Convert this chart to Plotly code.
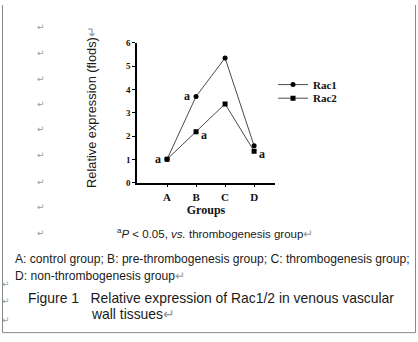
import plotly.graph_objects as go

groups = ["A", "B", "C", "D"]
rac1 = [1.0, 3.7, 5.35, 1.58]
rac2 = [1.0, 2.18, 3.38, 1.35]
sig_rac1 = ["a", "a", "", ""]
sig_rac2 = ["", "a", "", "a"]
y_ticks = [0, 1, 2, 3, 4, 5, 6]

W, H = 418, 342
def px(x): return x / W
def py(y): return 1 - y / H

xs = list(range(1, len(groups) + 1))

fig = go.Figure()
fig.add_trace(go.Scatter(x=xs, y=rac1, name="Rac1", mode="lines+markers", legend="legend",
                         line=dict(color="#4a4a4a", width=1),
                         marker=dict(symbol="circle", size=5, color="black")))
fig.add_trace(go.Scatter(x=xs, y=rac2, name="Rac2", mode="lines+markers", legend="legend2",
                         line=dict(color="#4a4a4a", width=1),
                         marker=dict(symbol="square", size=5, color="black")))

serif = "Liberation Serif"
sans = "Liberation Sans"

annotations = []
for i, (s, v) in enumerate(zip(sig_rac1, rac1)):
    if s:
        annotations.append(dict(x=xs[i], y=v, text=s, showarrow=False, xref="x", yref="y",
                                xanchor="center", yanchor="middle",
                                xshift=-9, yshift=0, font=dict(family=serif, size=12, color="#111", weight="bold")))
for i, (s, v) in enumerate(zip(sig_rac2, rac2)):
    if s:
        annotations.append(dict(x=xs[i], y=v, text=s, showarrow=False, xref="x", yref="y",
                                xanchor="center", yanchor="middle",
                                xshift=8, yshift=-3, font=dict(family=serif, size=12, color="#111", weight="bold")))

annotations.append(dict(x=px(92), y=py(105), xref="paper", yref="paper", showarrow=False,
                        xanchor="center", yanchor="middle",
                        text="Relative expression (flods)<span style='color:#999'>\u21b5</span>",
                        textangle=-90, font=dict(family=sans, size=12.8, color="#1a1a1a")))

for yy in [23, 49, 76, 102, 128, 155, 182, 208, 235]:
    annotations.append(dict(x=px(41), y=py(yy), xref="paper", yref="paper", showarrow=False,
                            xanchor="center", yanchor="middle",
                            text="\u21b5", font=dict(family="DejaVu Sans", size=9, color="#999")))
for yy in [287, 305, 325]:
    annotations.append(dict(x=px(6), y=py(yy), xref="paper", yref="paper", showarrow=False,
                            xanchor="center", yanchor="middle",
                            text="\u21b5", font=dict(family="DejaVu Sans", size=9, color="#999")))

texts = [
    (115, 235, "<sup>a</sup><i>P</i> &lt; 0.05, <i>vs.</i> thrombogenesis group<span style='color:#999'>\u21b5</span>", 11.5),
    (13, 262, "A: control group; B: pre-thrombogenesis group; C: thrombogenesis group;", 12.1),
    (13, 279, "D: non-thrombogenesis group<span style='color:#999'>\u21b5</span>", 12.1),
    (26, 302, "Figure 1   Relative expression of Rac1/2 in venous vascular", 13.9),
    (89, 318, "wall tissues<span style='color:#999'>\u21b5</span>", 13.9),
]
for x0, y0, t, s in texts:
    annotations.append(dict(x=px(x0), y=py(y0), xref="paper", yref="paper", showarrow=False,
                            xanchor="left", yanchor="middle", text=t,
                            font=dict(family=sans, size=s, color="#1a1a1a")))

shapes = [
    dict(type="line", xref="paper", yref="paper", x0=px(2.5), x1=px(2.5), y0=py(0), y1=py(337.5), line=dict(color="#888", width=1)),
    dict(type="line", xref="paper", yref="paper", x0=px(415.5), x1=px(415.5), y0=py(0), y1=py(337.5), line=dict(color="#888", width=1)),
    dict(type="line", xref="paper", yref="paper", x0=px(2.5), x1=px(415.5), y0=py(337.5), y1=py(337.5), line=dict(color="#888", width=1)),
]

leg_common = dict(xanchor="left", yanchor="middle", bgcolor="rgba(0,0,0,0)",
                  font=dict(family=serif, size=11, color="#111", weight="bold"), itemwidth=30)

fig.update_layout(
    width=W, height=H, margin=dict(l=0, r=0, t=0, b=0),
    paper_bgcolor="white", plot_bgcolor="white",
    showlegend=True,
    legend=dict(x=px(273), y=py(82), **leg_common),
    legend2=dict(x=px(273), y=py(96), **leg_common),
    xaxis=dict(domain=[px(137), px(275)], range=[-0.035, 4.72],
               tickmode="array", tickvals=xs, ticktext=groups,
               ticks="outside", ticklen=3, tickwidth=1, tickcolor="black",
               showline=True, linecolor="black", linewidth=1.5, showgrid=False, zeroline=False,
               tickfont=dict(family=serif, size=11, color="#111", weight="bold"),
               title=dict(text="Groups", font=dict(family=serif, size=12, color="#111", weight="bold"), standoff=2)),
    yaxis=dict(domain=[py(183), py(39)], range=[0, 6],
               tickmode="array", tickvals=y_ticks, ticktext=[str(t) for t in y_ticks],
               ticks="outside", ticklen=3, tickwidth=1, tickcolor="black",
               showline=True, linecolor="black", linewidth=1.5, showgrid=False, zeroline=False,
               tickfont=dict(family=serif, size=9, color="#111", weight="bold")),
    annotations=annotations, shapes=shapes,
)

fig.write_html("out.html", config={"displayModeBar": False},
               post_script="document.body.style.margin='0px';document.body.style.padding='0px';")
